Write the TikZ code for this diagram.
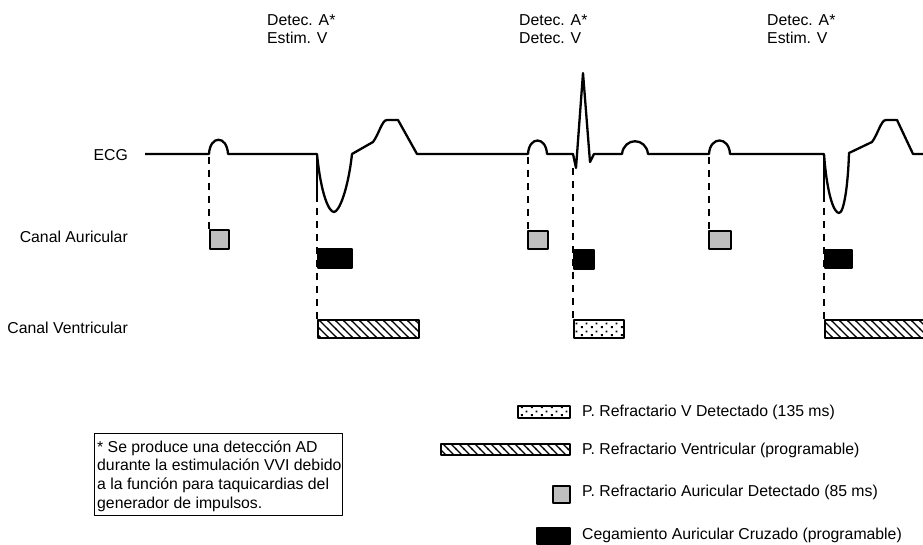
\documentclass[tikz,border=0pt]{standalone}
\usepackage{fontspec}
\setmainfont{Liberation Sans}
\usetikzlibrary{patterns}

\pgfdeclarepatternformonly{hatchbig}{\pgfqpoint{-1pt}{-1pt}}{\pgfqpoint{9pt}{9pt}}{\pgfqpoint{8pt}{8pt}}{%
  \pgfsetlinewidth{1.2pt}%
  \pgfpathmoveto{\pgfqpoint{-1pt}{9pt}}\pgfpathlineto{\pgfqpoint{9pt}{-1pt}}\pgfusepath{stroke}}
\pgfdeclarepatternformonly{stagdots}{\pgfqpoint{0pt}{0pt}}{\pgfqpoint{10pt}{8pt}}{\pgfqpoint{10pt}{8pt}}{%
  \pgfpathrectangle{\pgfqpoint{1pt}{1pt}}{\pgfqpoint{2pt}{2pt}}%
  \pgfpathrectangle{\pgfqpoint{6pt}{5pt}}{\pgfqpoint{2pt}{2pt}}%
  \pgfusepath{fill}}

\begin{document}
\begin{tikzpicture}[x=1pt,y=-1pt, line join=round,
  ecg/.style={line width=2.3pt},
  guide/.style={line width=1.8pt, dash pattern=on 7pt off 6pt},
  boxbase/.style={draw, line width=1.6pt, inner sep=0pt, anchor=north west},
  abox/.style={boxbase, fill=black!25},
  bbox/.style={boxbase, fill=black},
  hbox/.style={boxbase, pattern=hatchbig},
  dbox/.style={boxbase, pattern=stagdots},
  lbl/.style={font=\fontsize{15.8}{18}\selectfont, inner sep=0pt},
]
\useasboundingbox (0,0) rectangle (923,545);
\fill[white] (0,0) rectangle (923,545);
\clip (0,0) rectangle (923,545);

% ECG trace
\draw[ecg] (145,154) -- (209,154) .. controls (210,135) and (227,135) .. (228,154)
 -- (317,154) .. controls (321,195) and (329,212) .. (334,212) .. controls (339,212) and (348,190) .. (352,154)
 -- (373,142) .. controls (379,134) and (382,120) .. (387,120) -- (398,120) -- (417,154)
 -- (528,154) .. controls (529,136) and (546,136) .. (547,154)
 -- (573,154) -- (576,168) -- (583,73) -- (590,162) -- (594,154)
 -- (622,154) .. controls (624,137) and (646,137) .. (648,154)
 -- (709,154) .. controls (710,136) and (729,136) .. (730,154)
 -- (824,154) .. controls (827,195) and (834,213) .. (839,213) .. controls (844,213) and (848,185) .. (849,153)
 -- (872,142) .. controls (878,134) and (881,120) .. (886,120) -- (897,120) -- (913,154) -- (930,154);
\draw[ecg] (317,154) -- (317,195);
\draw[ecg] (824,154) -- (824,195);

% channel boxes
\node[abox, minimum width=19pt, minimum height=19pt] (a1) at (209,229) {};
\node[bbox, minimum width=34pt, minimum height=19pt] (b1) at (317,248) {};
\node[hbox, minimum width=101pt, minimum height=18pt] (h1) at (317,319) {};
\node[abox, minimum width=20pt, minimum height=18pt] (a2) at (527,230) {};
\node[bbox, minimum width=20pt, minimum height=19pt] (b2) at (573,249) {};
\node[dbox, minimum width=50pt, minimum height=18pt] (d2) at (573,319) {};
\node[abox, minimum width=22pt, minimum height=18pt] (a3) at (708,230) {};
\node[bbox, minimum width=27pt, minimum height=18pt] (b3) at (824,249) {};
\node[hbox, minimum width=110pt, minimum height=18pt] (h3) at (824,319) {};

% guide lines
\coordinate (p1) at (209,157);
\coordinate (v1) at (317,195);
\coordinate (p2) at (528,157);
\coordinate (v2) at (573,168);
\coordinate (p3) at (709,157);
\coordinate (v3) at (824,195);
\draw[guide] (p1) -- (a1.north west);
\draw[guide] (v1) -- (h1.north west);
\draw[guide] (p2) -- (p2 |- a2.north);
\draw[guide] (v2) -- (d2.north west);
\draw[guide] (p3) -- (p3 |- a3.north);
\draw[guide] (v3) -- (h3.north west);

% event labels
\node[lbl, anchor=base west] (l1a) at (267,26) {Detec. A*};
\node[lbl, anchor=base west] (l1b) at (267,44) {Estim. V};
\node[lbl, anchor=base west] (l2a) at (519,26) {Detec. A*};
\node[lbl, anchor=base west] (l2b) at (519,44) {Detec. V};
\node[lbl, anchor=base west] (l3a) at (767,26) {Detec. A*};
\node[lbl, anchor=base west] (l3b) at (767,44) {Estim. V};

% row labels
\node[lbl, anchor=base east] (ecg) at (128,161) {ECG};
\node[lbl, anchor=base east] (ca) at (128,243) {Canal Auricular};
\node[lbl, anchor=base east] (cv) at (128,333) {Canal Ventricular};

% legend
\node[dbox, minimum width=52pt, minimum height=12pt] (k1) at (517,405) {};
\node[hbox, minimum width=129pt, minimum height=11pt] (k2) at (440,443) {};
\node[abox, minimum width=17pt, minimum height=17pt] (k3) at (552,485) {};
\node[bbox, minimum width=33pt, minimum height=16pt] (k4) at (536,527) {};
\node[lbl, anchor=base west] (t1) at (582,416) {P. Refractario V Detectado (135 ms)};
\node[lbl, anchor=base west] (t2) at (582,454) {P. Refractario Ventricular (programable)};
\node[lbl, anchor=base west] (t3) at (582,496) {P. Refractario Auricular Detectado (85 ms)};
\node[lbl, anchor=base west] (t4) at (582,539) {Cegamiento Auricular Cruzado (programable)};

% footnote
\node[draw, line width=0.8pt, inner sep=0pt, anchor=north west, minimum width=248pt, minimum height=82pt] (fn) at (94,433) {};
\node[lbl, anchor=base west] (f1) at (97,452) {* Se produce una detección AD};
\node[lbl, anchor=base west] (f2) at (97,470) {durante la estimulación VVI debido};
\node[lbl, anchor=base west] (f3) at (97,489) {a la función para taquicardias del};
\node[lbl, anchor=base west] (f4) at (97,508) {generador de impulsos.};
\end{tikzpicture}
\end{document}
